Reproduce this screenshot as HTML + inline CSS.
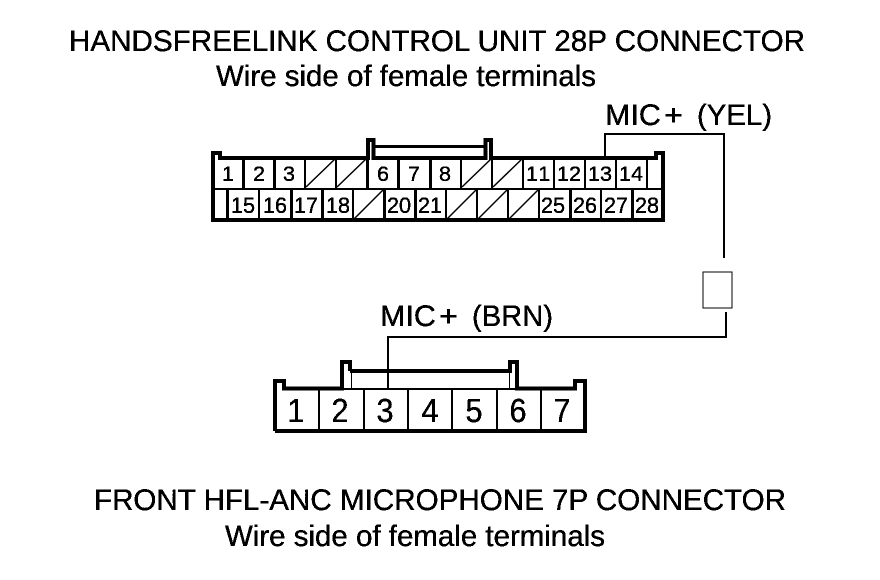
<!DOCTYPE html>
<html>
<head>
<meta charset="utf-8">
<style>
html,body{margin:0;padding:0;background:#fff;width:880px;height:580px;overflow:hidden}
svg{display:block}
text{font-family:"Liberation Sans",Arial,sans-serif;fill:#000;stroke:#000;stroke-width:.25px}
.h{font-size:30px}
</style>
</head>
<body>
<svg width="880" height="580" viewBox="0 0 880 580" xmlns="http://www.w3.org/2000/svg">
<defs>
<filter id="t" filterUnits="userSpaceOnUse" x="0" y="0" width="880" height="580" color-interpolation-filters="sRGB">
<feComponentTransfer><feFuncA type="discrete" tableValues="0 1 1"/></feComponentTransfer>
</filter>
</defs>
<rect width="880" height="580" fill="#fff"/>

<g filter="url(#t)">
<text class="h" x="69" y="51" textLength="736" lengthAdjust="spacingAndGlyphs">HANDSFREELINK CONTROL UNIT 28P CONNECTOR</text>
<text class="h" x="216" y="86" textLength="380" lengthAdjust="spacingAndGlyphs">Wire side of female terminals</text>
<text class="h" x="605" y="125" textLength="56" lengthAdjust="spacingAndGlyphs">MIC</text>
<text class="h" x="664" y="125" textLength="19" lengthAdjust="spacingAndGlyphs">+</text>
<text class="h" x="697" y="125" textLength="75" lengthAdjust="spacingAndGlyphs">(YEL)</text>
<text class="h" x="380" y="326" textLength="56" lengthAdjust="spacingAndGlyphs">MIC</text>
<text class="h" x="439" y="326" textLength="19" lengthAdjust="spacingAndGlyphs">+</text>
<text class="h" x="472" y="326" textLength="81" lengthAdjust="spacingAndGlyphs">(BRN)</text>
<text class="h" x="94" y="510" textLength="692" lengthAdjust="spacingAndGlyphs">FRONT HFL-ANC MICROPHONE 7P CONNECTOR</text>
<text class="h" x="225" y="546" textLength="380" lengthAdjust="spacingAndGlyphs">Wire side of female terminals</text>

<g text-anchor="middle" style="font-size:33px">
  <text x="296" y="422" textLength="17" lengthAdjust="spacingAndGlyphs">1</text>
  <text x="340" y="422" textLength="17" lengthAdjust="spacingAndGlyphs">2</text>
  <text x="385" y="422" textLength="17" lengthAdjust="spacingAndGlyphs">3</text>
  <text x="430" y="422" textLength="17" lengthAdjust="spacingAndGlyphs">4</text>
  <text x="474" y="422" textLength="17" lengthAdjust="spacingAndGlyphs">5</text>
  <text x="518" y="422" textLength="17" lengthAdjust="spacingAndGlyphs">6</text>
  <text x="562" y="422" textLength="17" lengthAdjust="spacingAndGlyphs">7</text>
</g>

<g text-anchor="middle" style="font-size:21px">
  <text x="228" y="181" textLength="12" lengthAdjust="spacingAndGlyphs">1</text>
  <text x="259" y="181" textLength="12" lengthAdjust="spacingAndGlyphs">2</text>
  <text x="289" y="181" textLength="12" lengthAdjust="spacingAndGlyphs">3</text>
  <text x="383" y="181" textLength="12" lengthAdjust="spacingAndGlyphs">6</text>
  <text x="414" y="181" textLength="12" lengthAdjust="spacingAndGlyphs">7</text>
  <text x="445" y="181" textLength="12" lengthAdjust="spacingAndGlyphs">8</text>
  <text x="538" y="181" textLength="24" lengthAdjust="spacing">11</text>
  <text x="569" y="181" textLength="24" lengthAdjust="spacingAndGlyphs">12</text>
  <text x="600" y="181" textLength="24" lengthAdjust="spacingAndGlyphs">13</text>
  <text x="631" y="181" textLength="24" lengthAdjust="spacingAndGlyphs">14</text>
</g>
<g text-anchor="middle" style="font-size:22px">
  <text x="243" y="213" textLength="24" lengthAdjust="spacingAndGlyphs">15</text>
  <text x="275" y="213" textLength="24" lengthAdjust="spacingAndGlyphs">16</text>
  <text x="306" y="213" textLength="24" lengthAdjust="spacingAndGlyphs">17</text>
  <text x="338" y="213" textLength="24" lengthAdjust="spacingAndGlyphs">18</text>
  <text x="399" y="213" textLength="24" lengthAdjust="spacingAndGlyphs">20</text>
  <text x="430" y="213" textLength="24" lengthAdjust="spacingAndGlyphs">21</text>
  <text x="553" y="213" textLength="24" lengthAdjust="spacingAndGlyphs">25</text>
  <text x="585" y="213" textLength="24" lengthAdjust="spacingAndGlyphs">26</text>
  <text x="616" y="213" textLength="24" lengthAdjust="spacingAndGlyphs">27</text>
  <text x="647" y="213" textLength="24" lengthAdjust="spacingAndGlyphs">28</text>
</g>
</g>

<g fill="none" stroke="#000" shape-rendering="crispEdges">
  <!-- top connector outline -->
  <path stroke-width="4" d="M213 220V153H220V158H368V140H373.5V158H485.5V140H491V158H656V153H663V220Z"/>
  <path stroke-width="3" d="M373.5 146.5H485.5"/>
  <path stroke-width="2" d="M213 189H662"/>
  <!-- top row separators -->
  <path stroke-width="3" d="M243.5 158V188M430.5 158V188M367.5 158V188M274.5 158V188M398.5 158V188"/>
  <path stroke-width="2" d="M305 158V188M336 158V188M461 158V188M492 158V188M523 158V188M554 158V188M585 158V188M616 158V188M647 158V188"/>
  <!-- bottom row separators -->
  <path stroke-width="3" d="M227.5 188V220M291.5 188V220M322.5 188V220M384.5 188V220M415.5 188V220M570.5 188V220M632.5 188V220"/>
  <path stroke-width="2" d="M259 188V220M353 188V220M446 188V220M477 188V220M508 188V220M539 188V220M601 188V220"/>
  <!-- wires -->
  <path stroke-width="2" d="M605 157V134H724V258"/>
  <path stroke-width="2" d="M388 388V337H726V312"/>
  <!-- inline box -->
  <rect stroke-width="1" x="703" y="272" width="29" height="36"/>
  <!-- bottom connector -->
  <path stroke-width="4" d="M275 431V381H284V388.5H342V362H350V371M509.5 371H510V362H517V388.5H575V381H585V431H275"/>
  <path stroke-width="4" d="M350 371H510"/>
  <path stroke-width="1" d="M351.5 371V388M509.5 371V388"/>
  <path stroke-width="2" d="M342 389H516"/>
  <path stroke-width="2" d="M319 388V431M364 388V431M408 388V431M452 388V431M497 388V431M541 388V431"/>
</g>

<!-- slashes -->
<g stroke="#000" stroke-width="1.5" fill="none">
  <path d="M306 187L335 159M337 187L366 159M462 187L491 159M493 187L522 159"/>
  <path d="M354 219L383 190M447 219L476 190M478 219L507 190M509 219L538 190"/>
</g>
</svg>
</body>
</html>
